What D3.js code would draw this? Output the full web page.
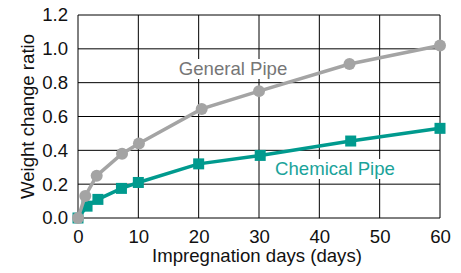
<!DOCTYPE html>
<html>
<head>
<meta charset="utf-8">
<script src="https://cdn.jsdelivr.net/npm/d3@7"></script>
<style>
  body { margin: 0; background: #fff; }
  text { font-family: "Liberation Sans", Arial, sans-serif; }
</style>
</head>
<body>
<script>
// values
var generalDays = [0, 1.2, 3.1, 7.3, 10.1, 20.5, 30, 45, 60];
var generalRatio = [0, 0.13, 0.25, 0.38, 0.44, 0.645, 0.75, 0.91, 1.02];
var chemicalDays = [0, 1.5, 3.3, 7.2, 10, 20, 30.2, 45.2, 60];
var chemicalRatio = [0, 0.07, 0.11, 0.175, 0.21, 0.32, 0.37, 0.455, 0.53];
var xTicks = [0, 10, 20, 30, 40, 50, 60];
var yTicks = [0, 0.2, 0.4, 0.6, 0.8, 1.0, 1.2];

var W = 461, H = 273;
var margin = {top: 15, right: 21, bottom: 55, left: 78};
var fs = 18.6;

var svg = d3.select("body").append("svg")
    .attr("width", W)
    .attr("height", H);

var x = d3.scaleLinear().domain([0, 60]).range([margin.left, W - margin.right]);
var y = d3.scaleLinear().domain([0, 1.2]).range([H - margin.bottom, margin.top]);

var gray = "#a4a4a4", teal = "#009a8e";

// grid
svg.append("g").selectAll("line").data(xTicks).enter().append("line")
    .attr("x1", function(d) { return x(d); })
    .attr("x2", function(d) { return x(d); })
    .attr("y1", y(0)).attr("y2", y(1.2))
    .attr("stroke", "#000").attr("stroke-width", 1);
svg.append("g").selectAll("line").data(yTicks).enter().append("line")
    .attr("y1", function(d) { return y(d); })
    .attr("y2", function(d) { return y(d); })
    .attr("x1", x(0)).attr("x2", x(60))
    .attr("stroke", "#000").attr("stroke-width", 1);

// axes (labels only)
var xAxis = svg.append("g")
    .attr("transform", "translate(0," + y(0) + ")")
    .call(d3.axisBottom(x).tickValues(xTicks).tickSize(0).tickPadding(12).tickFormat(d3.format("d")));
var yAxis = svg.append("g")
    .attr("transform", "translate(" + x(0) + ",0)")
    .call(d3.axisLeft(y).tickValues(yTicks).tickSize(0).tickPadding(10).tickFormat(d3.format(".1f")));
[xAxis, yAxis].forEach(function(g) {
    g.select(".domain").remove();
    g.selectAll("text")
        .style("font-family", '"Liberation Sans", Arial, sans-serif')
        .style("font-size", fs + "px")
        .attr("fill", "#111");
});

svg.append("text")
    .attr("x", (x(0) + x(60)) / 2 - 2)
    .attr("y", 262)
    .attr("text-anchor", "middle")
    .attr("font-size", fs)
    .attr("fill", "#111")
    .text("Impregnation days (days)");

svg.append("text")
    .attr("transform", "translate(34," + (y(0) + y(1.2)) / 2 + ") rotate(-90)")
    .attr("text-anchor", "middle")
    .attr("font-size", fs)
    .attr("fill", "#111")
    .text("Weight change ratio");

// series labels with white boxes
function label(txt, cx, by, col) {
    var t = svg.append("text")
        .attr("x", cx).attr("y", by)
        .attr("text-anchor", "middle")
        .attr("font-size", fs)
        .attr("fill", col)
        .text(txt);
    var b = t.node().getBBox();
    svg.insert("rect", function() { return t.node(); })
        .attr("x", b.x - 3).attr("y", b.y + 1)
        .attr("width", b.width + 6).attr("height", b.height - 1)
        .attr("fill", "#fff");
}
label("General Pipe", 233, 75, "#767676");
label("Chemical Pipe", 335, 175, "#1aa39a");

// lines
var line = d3.line()
    .x(function(d) { return x(d[0]); })
    .y(function(d) { return y(d[1]); });

var generalPts = d3.zip(generalDays, generalRatio);
var chemicalPts = d3.zip(chemicalDays, chemicalRatio);

svg.append("path").datum(chemicalPts)
    .attr("d", line).attr("fill", "none")
    .attr("stroke", teal).attr("stroke-width", 3.5);
svg.append("g").selectAll("rect").data(chemicalPts).enter().append("rect")
    .attr("x", function(d) { return x(d[0]) - 5.5; })
    .attr("y", function(d) { return y(d[1]) - 5.5; })
    .attr("width", 11).attr("height", 11)
    .attr("fill", teal);

svg.append("path").datum(generalPts)
    .attr("d", line).attr("fill", "none")
    .attr("stroke", gray).attr("stroke-width", 3.5);
svg.append("g").selectAll("circle").data(generalPts).enter().append("circle")
    .attr("cx", function(d) { return x(d[0]); })
    .attr("cy", function(d) { return y(d[1]); })
    .attr("r", 6)
    .attr("fill", gray);
</script>
</body>
</html>
